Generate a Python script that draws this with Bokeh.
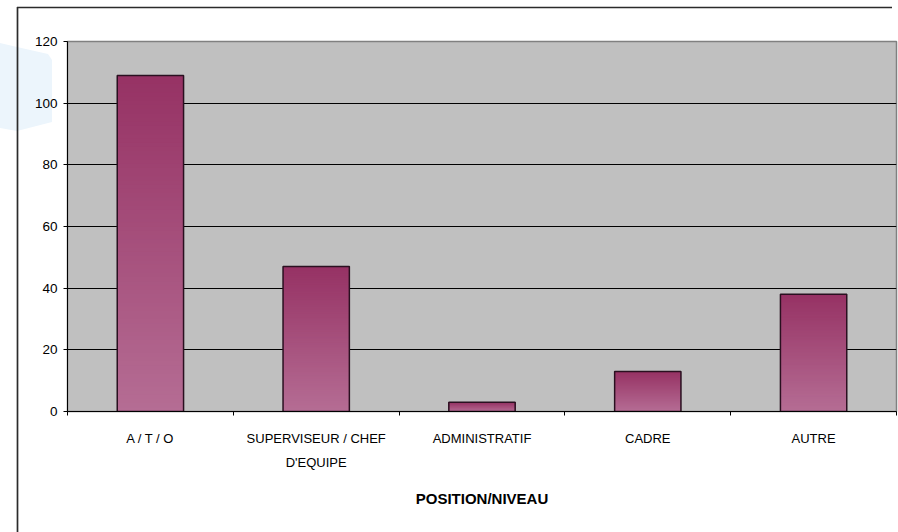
from bokeh.plotting import figure
from bokeh.models import FixedTicker, Range1d, InlineStyleSheet
from bokeh.embed import file_html
from bokeh.resources import INLINE

# Data
categories = ["A / T / O", "SUPERVISEUR / CHEF\nD'EQUIPE", "ADMINISTRATIF", "CADRE", "AUTRE"]
counts = [109, 47, 3, 13, 38]
y_ticks = [0, 20, 40, 60, 80, 100, 120]
x_title = "POSITION/NIVEAU"

# Bar gradient: dark at the top, lighter towards the base
TOP_RGB = (150, 50, 100)
BASE_RGB = (181, 109, 148)
N_STEPS = 80
BAR_WIDTH = 0.4


def blend(t):
    r, g, b = (round(BASE_RGB[k] + (TOP_RGB[k] - BASE_RGB[k]) * t) for k in range(3))
    return f"#{r:02x}{g:02x}{b:02x}"


# Page backdrop: pale shape on the left edge and the outer chart border (top/left)
backdrop_svg = (
    "<svg xmlns='http://www.w3.org/2000/svg' width='898' height='532'>"
    "<polygon points='0,43 17,47 48,54 52,60 52,122 17,131 0,128' fill='%23ECF5FC'/>"
    "<line x1='17.5' y1='7' x2='17.5' y2='532' stroke='%232b2b2b' stroke-width='1.7'/>"
    "<line x1='17' y1='7.5' x2='892' y2='7.5' stroke='%232b2b2b' stroke-width='1.7'/>"
    "</svg>"
)
backdrop = InlineStyleSheet(css=(
    ":host { background-color: white; "
    f"background-image: url(\"data:image/svg+xml;utf8,{backdrop_svg}\"); "
    "background-repeat: no-repeat; background-position: 0 0; }"
))

p = figure(
    width=898, height=532,
    x_range=Range1d(0, len(categories)), y_range=Range1d(0, 120),
    output_backend="svg", toolbar_location=None,
    min_border_left=67, min_border_right=2, min_border_top=41, min_border_bottom=121,
    stylesheets=[backdrop],
)
p.background_fill_color = "#C0C0C0"
p.border_fill_color = None
p.outline_line_color = "#808080"
p.outline_line_width = 1.5

# Grid
p.xgrid.grid_line_color = None
p.ygrid.grid_line_color = "black"
p.ygrid.grid_line_width = 1
p.ygrid.ticker = FixedTicker(ticks=y_ticks)

# Y axis
p.yaxis.ticker = FixedTicker(ticks=y_ticks)
p.yaxis.axis_line_color = "black"
p.yaxis.major_tick_line_color = "black"
p.yaxis.major_tick_out = 4
p.yaxis.major_tick_in = 0
p.yaxis.minor_tick_line_color = None
p.yaxis.major_label_standoff = 6
p.yaxis.major_label_text_font = "Liberation Sans"
p.yaxis.major_label_text_font_size = "13.5px"
p.yaxis.major_label_text_color = "black"

# X axis: ticks on category boundaries, labels at category centres
centres = [i + 0.5 for i in range(len(categories))]
bounds = [float(i) for i in range(len(categories) + 1)]
p.xaxis.ticker = FixedTicker(ticks=centres, minor_ticks=bounds)
p.xaxis.major_label_overrides = {c: lab for c, lab in zip(centres, categories)}
p.xaxis.axis_line_color = "black"
p.xaxis.major_tick_line_color = None
p.xaxis.major_tick_out = 4
p.xaxis.major_tick_in = 0
p.xaxis.minor_tick_line_color = "black"
p.xaxis.minor_tick_out = 4
p.xaxis.minor_tick_in = 0
p.xaxis.major_label_standoff = 15
p.xaxis.major_label_text_font = "Liberation Sans"
p.xaxis.major_label_text_font_size = "13px"
p.xaxis.major_label_text_line_height = 1.6
p.xaxis.major_label_text_color = "black"
p.xaxis.axis_label = x_title
p.xaxis.axis_label_text_font = "Liberation Sans"
p.xaxis.axis_label_text_font_style = "bold"
p.xaxis.axis_label_text_font_size = "15px"
p.xaxis.axis_label_text_color = "black"
p.xaxis.axis_label_standoff = 17

# Gradient-filled bars: stacked layers, each running from its step up to the bar top
lefts, rights, bottoms, tops, colors = [], [], [], [], []
for c, v in zip(centres, counts):
    for k in range(N_STEPS):
        lefts.append(c - BAR_WIDTH / 2)
        rights.append(c + BAR_WIDTH / 2)
        bottoms.append(v * k / N_STEPS)
        tops.append(v)
        colors.append(blend((k + 0.5) / N_STEPS))
p.quad(left=lefts, right=rights, bottom=bottoms, top=tops,
       fill_color=colors, line_color=None)

# Bar outlines
p.quad(left=[c - BAR_WIDTH / 2 for c in centres], right=[c + BAR_WIDTH / 2 for c in centres],
       bottom=0, top=counts, fill_color=None, line_color="#2a1020", line_width=1.5)

open("out.html", "w").write(file_html(p, INLINE))
